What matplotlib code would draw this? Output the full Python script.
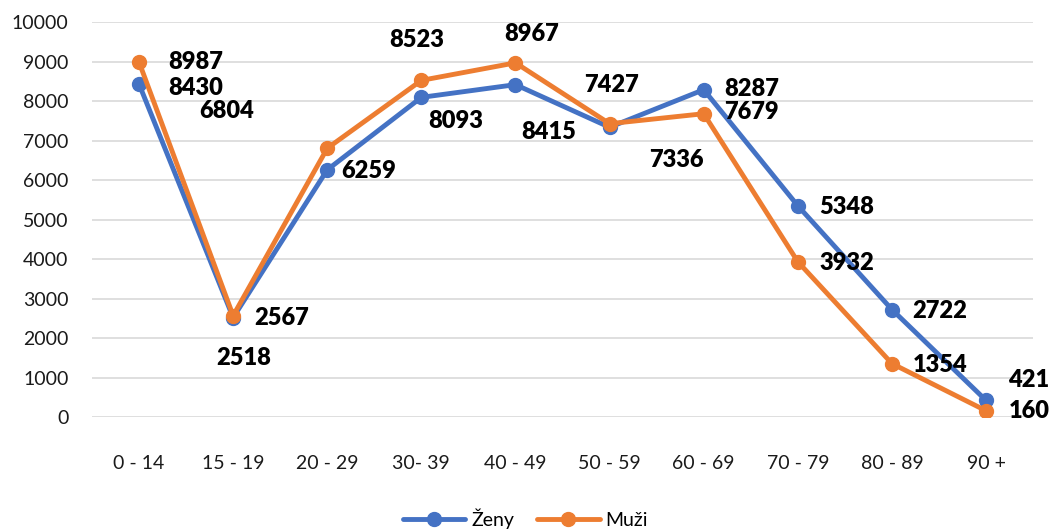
import matplotlib
matplotlib.use("Agg")
import matplotlib.pyplot as plt

# data
vekove_skupiny = ["0 - 14", "15 - 19", "20 - 29", "30- 39", "40 - 49",
                  "50 - 59", "60 - 69", "70 - 79", "80 - 89", "90 +"]
zeny = [8430, 2518, 6259, 8093, 8415, 7336, 8287, 5348, 2722, 421]
muzi = [8987, 2567, 6804, 8523, 8967, 7427, 7679, 3932, 1354, 160]

# label offsets in pixels (dx, dy) from the point
zeny_off = [(57, -4), (11, -40), (41, -1), (34, -24), (33, -47),
            (67, -33), (48, 1), (49, -1), (48, -1), (43, 20)]
muzi_off = [(57, 0), (48, -2), (-101, 37), (-5, 40), (16, 29),
            (2, 39), (48, 2), (49, -1), (48, -1), (43, 0)]

plt.rcParams['font.family'] = ['Lato', 'DejaVu Sans']

fig = plt.figure(figsize=(10.51, 5.32), dpi=100)
ax = fig.add_axes([0.0875, 0.216, 0.8955, 0.7426])

x = list(range(len(vekove_skupiny)))
modra = "#4472C4"
oranzova = "#ED7D31"

ax.plot(x, zeny, color=modra, lw=3.5, marker="o", ms=10, label="Ženy",
        solid_capstyle="round", zorder=3)
ax.plot(x, muzi, color=oranzova, lw=3.5, marker="o", ms=10, label="Muži",
        solid_capstyle="round", zorder=4)

for i in x:
    ax.annotate(str(zeny[i]), (i, zeny[i]), xytext=zeny_off[i],
                textcoords="offset pixels", ha="center", va="center",
                fontsize=17, fontweight="heavy", color="black", zorder=5)
    ax.annotate(str(muzi[i]), (i, muzi[i]), xytext=muzi_off[i],
                textcoords="offset pixels", ha="center", va="center",
                fontsize=17, fontweight="heavy", color="black", zorder=5)

ax.set_xlim(-0.5, len(x) - 0.5)
ax.set_ylim(0, 10000)
ax.set_yticks(range(0, 10001, 1000))
ax.set_xticks(x)
ax.set_xticklabels(vekove_skupiny)
ax.tick_params(axis="both", length=0, labelsize=14, colors="#1a1a1a")
ax.tick_params(axis="x", pad=27)
ax.tick_params(axis="y", pad=17)
ax.grid(axis="y", color="#D9D9D9", lw=1.2)
ax.set_axisbelow(True)
for s in ax.spines.values():
    s.set_visible(False)

fig.legend(loc="center", bbox_to_anchor=(0.5, 0.025), ncol=2, frameon=False,
           fontsize=14, handlelength=3.2, columnspacing=1.2, handletextpad=0.3)

fig.savefig("out.png", dpi=100)
